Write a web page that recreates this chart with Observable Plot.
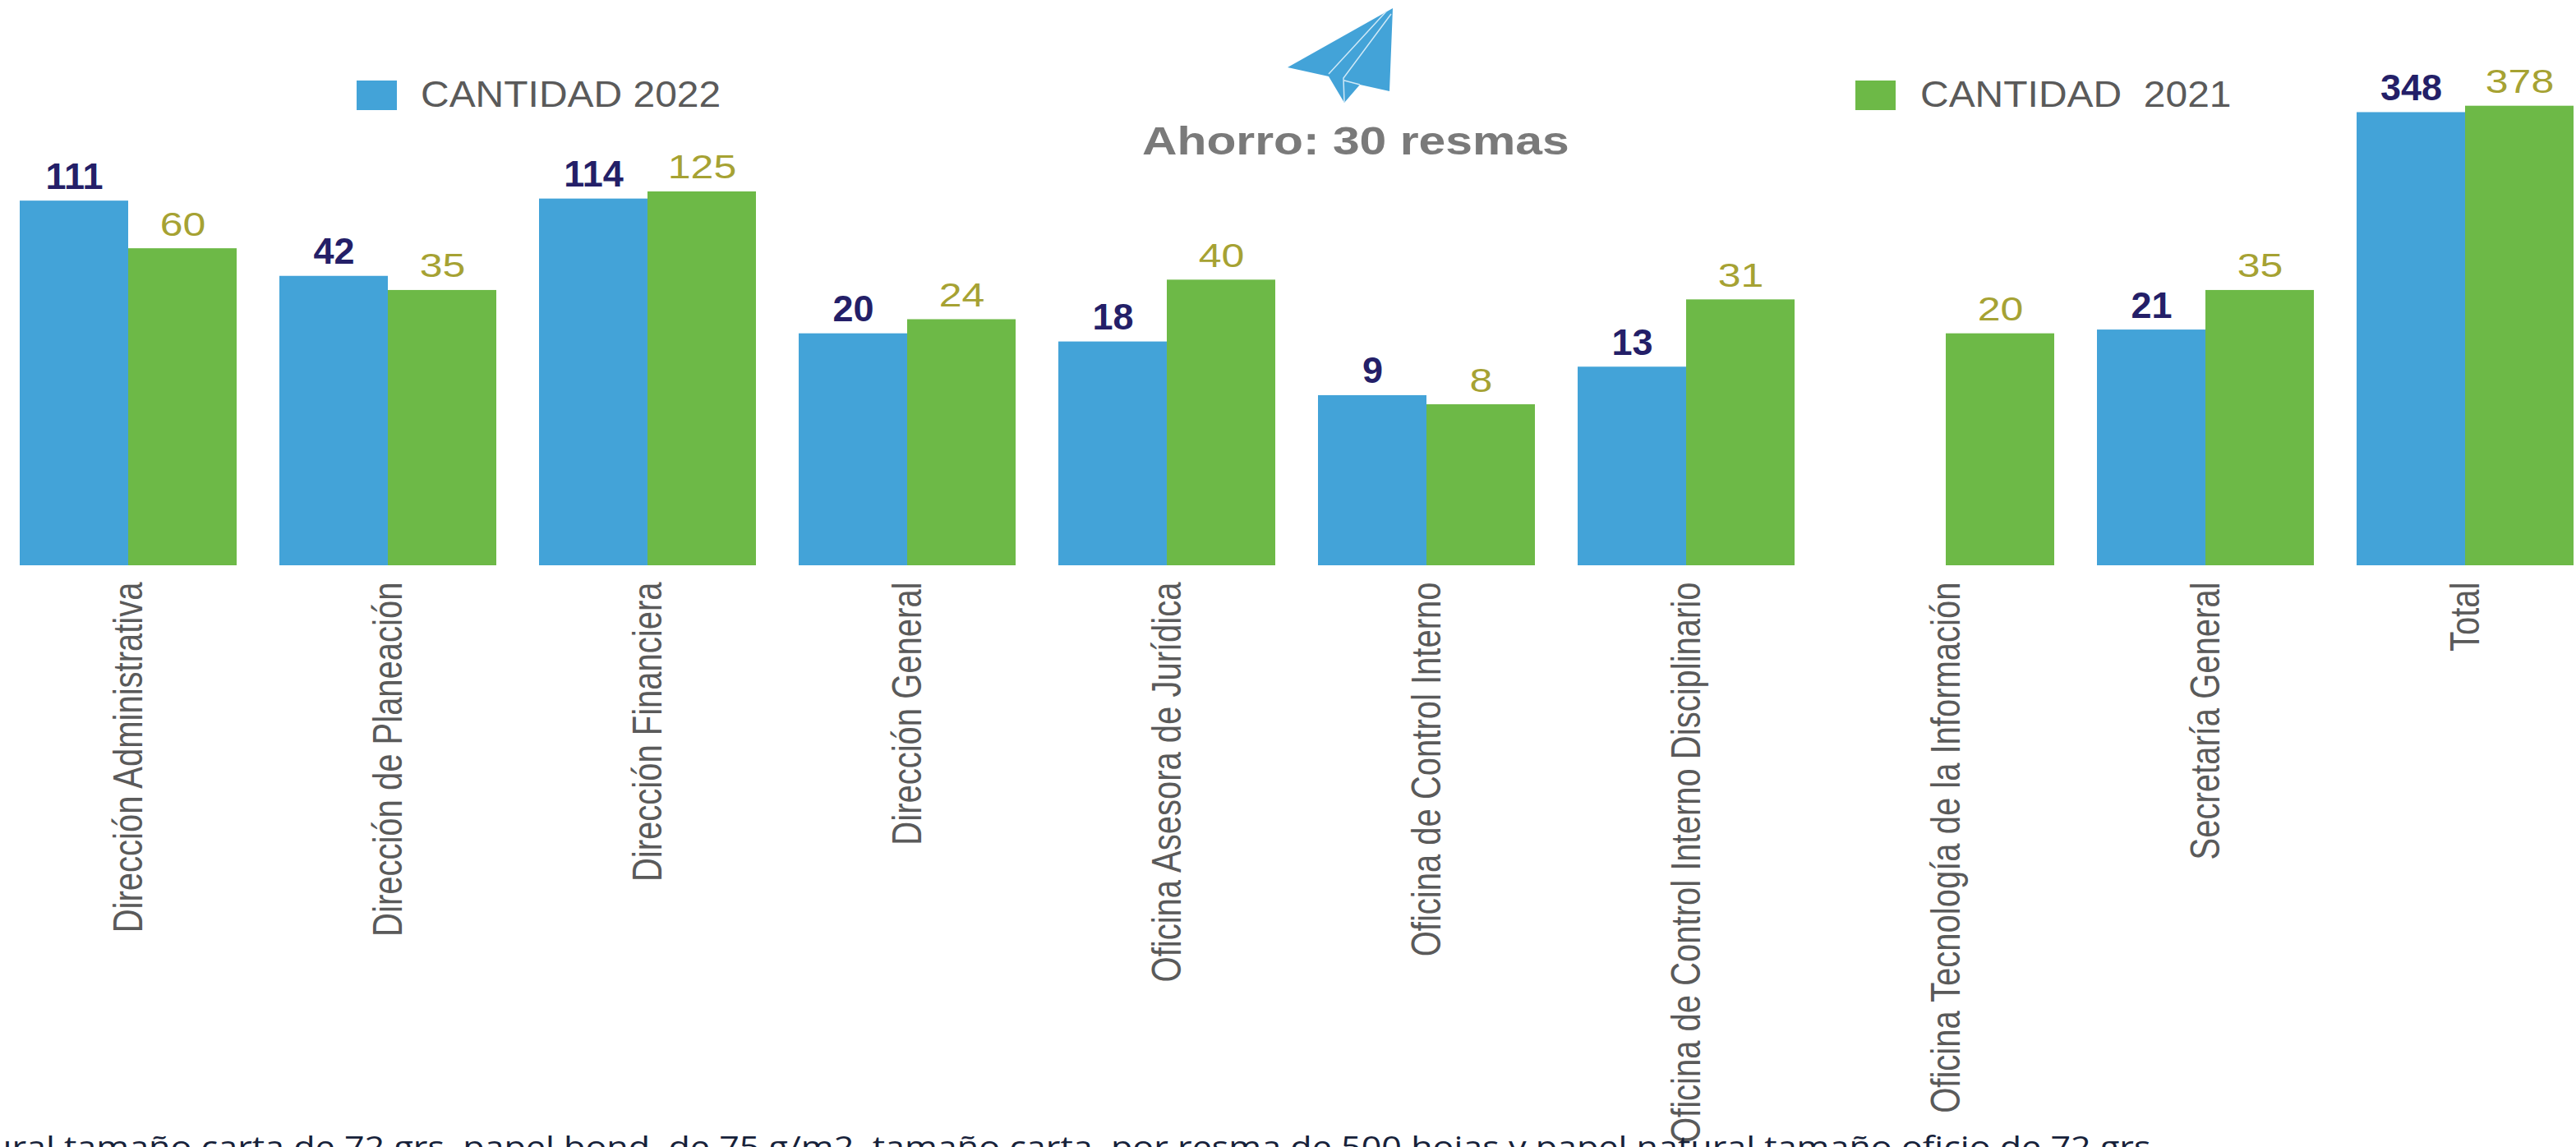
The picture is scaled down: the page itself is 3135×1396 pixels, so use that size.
<!DOCTYPE html>
<html lang="es">
<head>
<meta charset="utf-8">
<script src="https://cdn.jsdelivr.net/npm/d3@7"></script>
<script src="https://cdn.jsdelivr.net/npm/@observablehq/plot@0.6"></script>
<style>
  html, body { margin: 0; padding: 0; background: #fff; overflow: hidden; }
  #page { position: relative; width: 3135px; height: 1396px; overflow: hidden; font-family: "Liberation Sans", Arial, sans-serif; }
  #page svg { display: block; }
  .abs { position: absolute; white-space: pre; line-height: 1; }
  .key { width: 49px; height: 36px; }
  .legend { font-size: 44px; color: #5a5a5a; transform-origin: left top; transform: scaleX(1.09); }
  #ahorro { font-size: 49px; font-weight: bold; color: #7a7a7a; transform-origin: left top; transform: scaleX(1.2); }
  #nota { font-family: "Open Sans", sans-serif; font-size: 37px; color: #17223a; transform-origin: left top; transform: scaleX(1.164); }
</style>
</head>
<body>
<div id="page"></div>
<script>
const categories = [
  "Dirección Administrativa", "Dirección de Planeación", "Dirección Financiera",
  "Dirección General", "Oficina Asesora de Jurídica", "Oficina de Control Interno",
  "Oficina de Control Interno Disciplinario", "Oficina Tecnología de la Información",
  "Secretaría General", "Total"
];
const cantidad2022 = [111, 42, 114, 20, 18, 9, 13, null, 21, 348];
const cantidad2021 = [60, 35, 125, 24, 40, 8, 31, 20, 35, 378];
const seriesNames = ["2022", "2021"];
const blue = "#43a3d8", green = "#6db947";

const rows = categories.flatMap((c, i) => [
  {category: c, serie: seriesNames[0], value: cantidad2022[i]},
  {category: c, serie: seriesNames[1], value: cantidad2021[i]}
]).filter(d => d.value != null);
const rows22 = rows.filter(d => d.serie === seriesNames[0]);
const rows21 = rows.filter(d => d.serie === seriesNames[1]);

const chart = Plot.plot({
  width: 3135, height: 1396,
  marginTop: 37, marginBottom: 708, marginLeft: 21, marginRight: 0,
  style: {background: "#fff", fontFamily: "'Liberation Sans', Arial, sans-serif"},
  fx: {domain: categories, paddingInner: 0.165, paddingOuter: 0, label: null},
  x: {domain: seriesNames, padding: 0, axis: null, round: false},
  y: {type: "log", domain: [1, 1000], axis: null},
  color: {domain: seriesNames, range: [blue, green]},
  marks: [
    Plot.axisFx({anchor: "bottom", tickRotate: -90, tickSize: 0, tickPadding: 20, fontSize: 50, fill: "#5a5a5a", label: null}),
    Plot.barY(rows, {fx: "category", x: "serie", y1: () => 1, y2: "value", fill: "serie", inset: 0}),
    Plot.text(rows22, {fx: "category", x: "serie", y: "value", text: "value", lineAnchor: "bottom", dy: -15, fontSize: 45, fontWeight: "bold", fill: "#241f68", className: "lab22"}),
    Plot.text(rows21, {fx: "category", x: "serie", y: "value", text: "value", lineAnchor: "bottom", dy: -16, fontSize: 41, fill: "#a6a233", className: "lab21"})
  ]
});

const page = document.getElementById("page");
page.appendChild(chart);

// The picture's type is stretched unevenly: horizontal labels run wide, rotated ones run narrow.
function stretch(nodes, k) {
  nodes.forEach(t => {
    t.setAttribute("textLength", t.getComputedTextLength() * k);
    t.setAttribute("lengthAdjust", "spacingAndGlyphs");
  });
}
stretch(chart.querySelectorAll('.lab21 text'), 1.22);
stretch(chart.querySelectorAll('g[aria-label="fx-axis tick label"] text'), 0.80);

page.insertAdjacentHTML("beforeend", `
  <div class="abs key" style="left:434px;top:98px;background:${blue}"></div>
  <div class="abs legend" style="left:512px;top:93px">CANTIDAD 2022</div>
  <div class="abs key" style="left:2258px;top:98px;background:${green}"></div>
  <div class="abs legend" style="left:2337px;top:93px">CANTIDAD  2021</div>
  <svg class="abs" style="left:1560px;top:5px" width="140" height="125" viewBox="1560 5 140 125" aria-hidden="true">
    <polygon points="1695,10 1567,82 1617,93 1636,125 1655,103 1691,111" fill="${blue}"/>
    <path d="M1687,14 L1617,90 M1693,17 L1635,95 L1636,125 M1636,98 L1655,103" fill="none" stroke="#cfe9f7" stroke-width="1.5"/>
  </svg>
  <div class="abs" id="ahorro" style="left:1390px;top:147px">Ahorro: 30 resmas</div>
  <div class="abs" id="nota" style="left:-12px;top:1376px">ural tamaño carta de 72 grs, papel bond, de 75 g/m2, tamaño carta, por resma de 500 hojas y papel natural tamaño oficio de 72 grs</div>
`);
</script>
</body>
</html>
